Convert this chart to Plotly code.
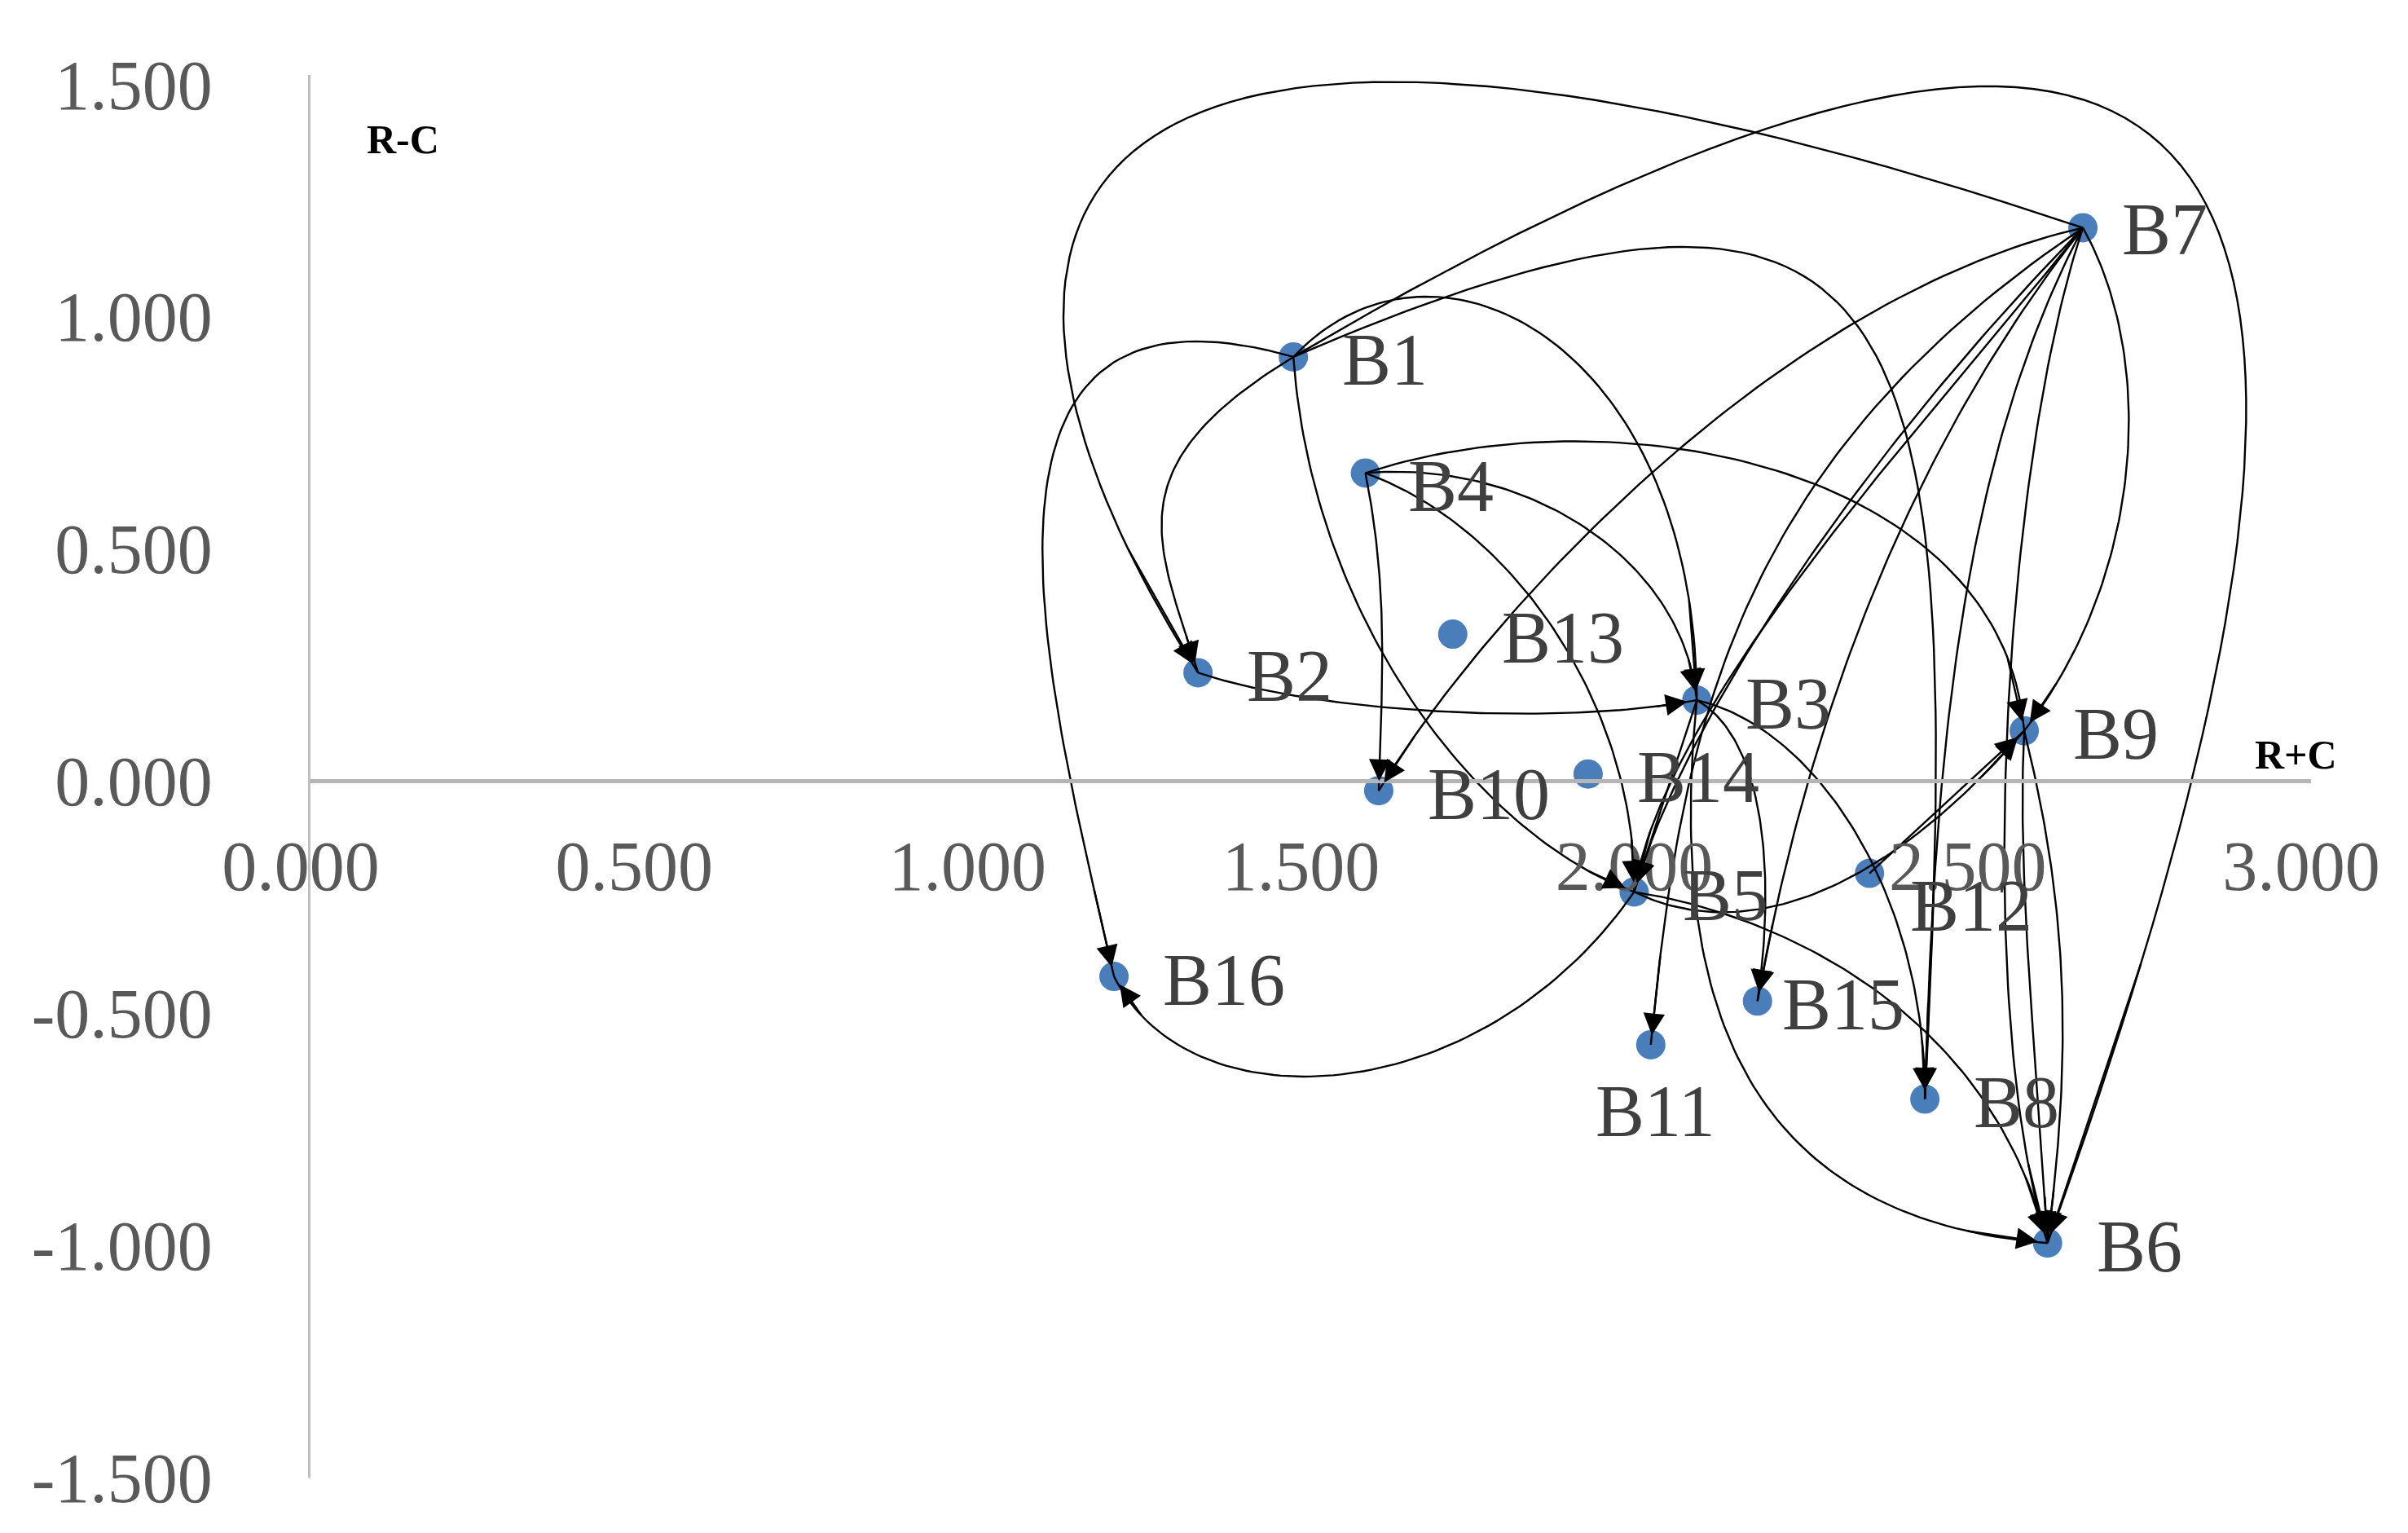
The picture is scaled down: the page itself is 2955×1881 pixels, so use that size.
import numpy as np
import plotly.graph_objects as go

# ---------------- data ----------------
names = ["B1", "B2", "B3", "B4", "B5", "B6", "B7", "B8",
         "B9", "B10", "B11", "B12", "B13", "B14", "B15", "B16"]
r_plus_c = [1.474, 1.331, 2.079, 1.582, 1.985, 2.605, 2.658, 2.421,
            2.570, 1.602, 2.010, 2.338, 1.713, 1.916, 2.170, 1.205]
r_minus_c = [0.913, 0.233, 0.174, 0.663, -0.239, -0.995, 1.191, -0.685,
             0.108, -0.021, -0.568, -0.199, 0.316, 0.015, -0.474, -0.421]

# causal relations (from -> to)
edge_from = ["B7", "B1", "B1", "B1", "B1", "B1", "B1", "B4", "B4", "B4",
             "B4", "B2", "B7", "B7", "B7", "B7", "B7", "B7", "B7", "B7",
             "B3", "B3", "B3", "B3", "B5", "B5", "B5", "B12", "B9", "B9"]
edge_to = ["B2", "B6", "B8", "B2", "B16", "B3", "B5", "B10", "B3", "B5",
           "B9", "B3", "B10", "B9", "B6", "B5", "B5", "B11", "B15", "B8",
           "B5", "B15", "B8", "B6", "B16", "B9", "B6", "B9", "B6", "B6"]

x_ticks = [0.0, 0.5, 1.0, 1.5, 2.0, 2.5, 3.0]
x_tick_labels = ["0.000", "0.500", "1.000", "1.500", "2.000", "2.500", "3.000"]
y_ticks = [-1.5, -1.0, -0.5, 0.0, 0.5, 1.0, 1.5]
y_tick_labels = ["-1.500", "-1.000", "-0.500", "0.000", "0.500", "1.000", "1.500"]

# ---------------- styling of curves (bezier handles, axis units) ----------------
curve_handles = [
    (-1.639, 0.790, -0.405, 0.906),
    (1.593, 1.349, 0.532, 2.116),
    (0.949, 0.588, 0.060, 1.689),
    (-0.272, -0.238, -0.060, 0.278),
    (-0.548, 0.225, -0.094, 0.598),
    (0.212, 0.324, -0.002, 0.767),
    (0.028, -0.569, -0.230, 0.119),
    (0.035, -0.251, 0.005, 0.235),
    (0.242, 0.030, -0.021, 0.304),
    (0.230, -0.119, 0.005, 0.383),
    (0.380, 0.179, -0.032, 0.565),
    (0.194, -0.093, -0.187, -0.053),
    (-0.465, -0.152, 0.154, 0.367),
    (0.111, -0.284, 0.180, 0.334),
    (-0.120, -0.516, -0.113, 0.512),
    (-0.350, -0.516, 0.069, 0.350),
    (-0.212, -0.383, 0.046, 0.417),
    (-0.535, -0.516, 0.044, 0.648),
    (-0.281, -0.516, 0.069, 0.552),
    (-0.189, -0.516, 0.014, 0.698),
    (-0.032, -0.136, 0.032, 0.136),
    (0.113, -0.093, 0.023, 0.221),
    (0.182, -0.060, 0.002, 0.433),
    (-0.048, -0.688, -0.435, 0.050),
    (-0.230, -0.476, 0.113, -0.327),
    (0.161, -0.112, -0.217, -0.360),
    (0.207, -0.046, -0.090, 0.512),
    (0.078, 0.102, -0.078, -0.102),
    (-0.012, -0.331, -0.012, 0.331),
    (0.069, -0.397, 0.035, 0.397),
]

# label offsets in px (xshift, yshift, anchor)
label_style = {name: (58, -4, "left") for name in names}
label_style["B4"] = (50, -16, "left")
label_style["B7"] = (46, -2, "left")
label_style["B11"] = (6, -82, "center")
label_style["B12"] = (48, -40, "left")
label_style["B15"] = (28, -4, "left")

SERIF = "Liberation Serif, Times New Roman, serif"

pos = {n: (x, y) for n, x, y in zip(names, r_plus_c, r_minus_c)}


def bezier(p0, p1, p2, p3, t):
    t = np.asarray(t)[:, None]
    return ((1 - t) ** 3) * p0 + 3 * ((1 - t) ** 2) * t * p1 + 3 * (1 - t) * t ** 2 * p2 + t ** 3 * p3


line_x, line_y = [], []
arrows = []
ts = np.linspace(0, 1, 80)
for f, t_, h in zip(edge_from, edge_to, curve_handles):
    p0 = np.array(pos[f])
    p3 = np.array(pos[t_])
    p1 = p0 + np.array([h[0], h[1]])
    p2 = p3 + np.array([h[2], h[3]])
    pts = bezier(p0, p1, p2, p3, ts)
    line_x += list(pts[:, 0]) + [None]
    line_y += list(pts[:, 1]) + [None]
    back = bezier(p0, p1, p2, p3, [0.9])[0]
    arrows.append(dict(x=p3[0], y=p3[1], ax=back[0], ay=back[1],
                       xref="x", yref="y", axref="x", ayref="y",
                       text="", showarrow=True, arrowhead=2, arrowsize=2.2,
                       arrowwidth=2.4, arrowcolor="black", standoff=12))

fig = go.Figure()
fig.add_trace(go.Scatter(x=r_plus_c, y=r_minus_c, mode="markers",
                         marker=dict(size=36, color="#4A7EBB"),
                         hoverinfo="text", text=names, showlegend=False))
fig.add_trace(go.Scatter(x=line_x, y=line_y, mode="lines",
                         line=dict(color="black", width=2.4),
                         hoverinfo="skip", showlegend=False))

annotations = list(arrows)
for n in names:
    xs, ys, anc = label_style[n]
    annotations.append(dict(x=pos[n][0], y=pos[n][1], text=n, showarrow=False,
                            xref="x", yref="y", xanchor=anc, yanchor="middle",
                            xshift=xs, yshift=ys,
                            font=dict(family=SERIF, size=90, color="#3F3F3F")))
annotations.append(dict(x=0.139, y=1.382, text="<b>R-C</b>", showarrow=False,
                        xref="x", yref="y", xanchor="center", yanchor="middle",
                        font=dict(family=SERIF, size=50, color="black")))
annotations.append(dict(x=2.978, y=0.056, text="<b>R+C</b>", showarrow=False,
                        xref="x", yref="y", xanchor="center", yanchor="middle",
                        font=dict(family=SERIF, size=50, color="black")))

y_lo, y_hi = -1.5, 1.52
fig.update_layout(
    width=2955, height=1881,
    paper_bgcolor="white", plot_bgcolor="white",
    margin=dict(l=373, r=127, t=84, b=76),
    annotations=annotations,
    xaxis=dict(range=[0, 3.0001], tickvals=x_ticks, ticktext=x_tick_labels,
               showgrid=False, zeroline=False, showline=True,
               linecolor="#B5B5B5", linewidth=5,
               anchor="free", position=(0 - y_lo) / (y_hi - y_lo),
               ticks="", ticklabelstandoff=28, ticklabelshift=-12,
               tickfont=dict(family=SERIF, size=86, color="#595959")),
    yaxis=dict(range=[y_lo, y_hi], tickvals=y_ticks, ticktext=y_tick_labels,
               showgrid=False, zeroline=False, showline=True,
               linecolor="#BFBFBF", linewidth=3,
               ticks="", ticklabelstandoff=100,
               tickfont=dict(family=SERIF, size=86, color="#595959")),
)

fig.write_html("out.html")
